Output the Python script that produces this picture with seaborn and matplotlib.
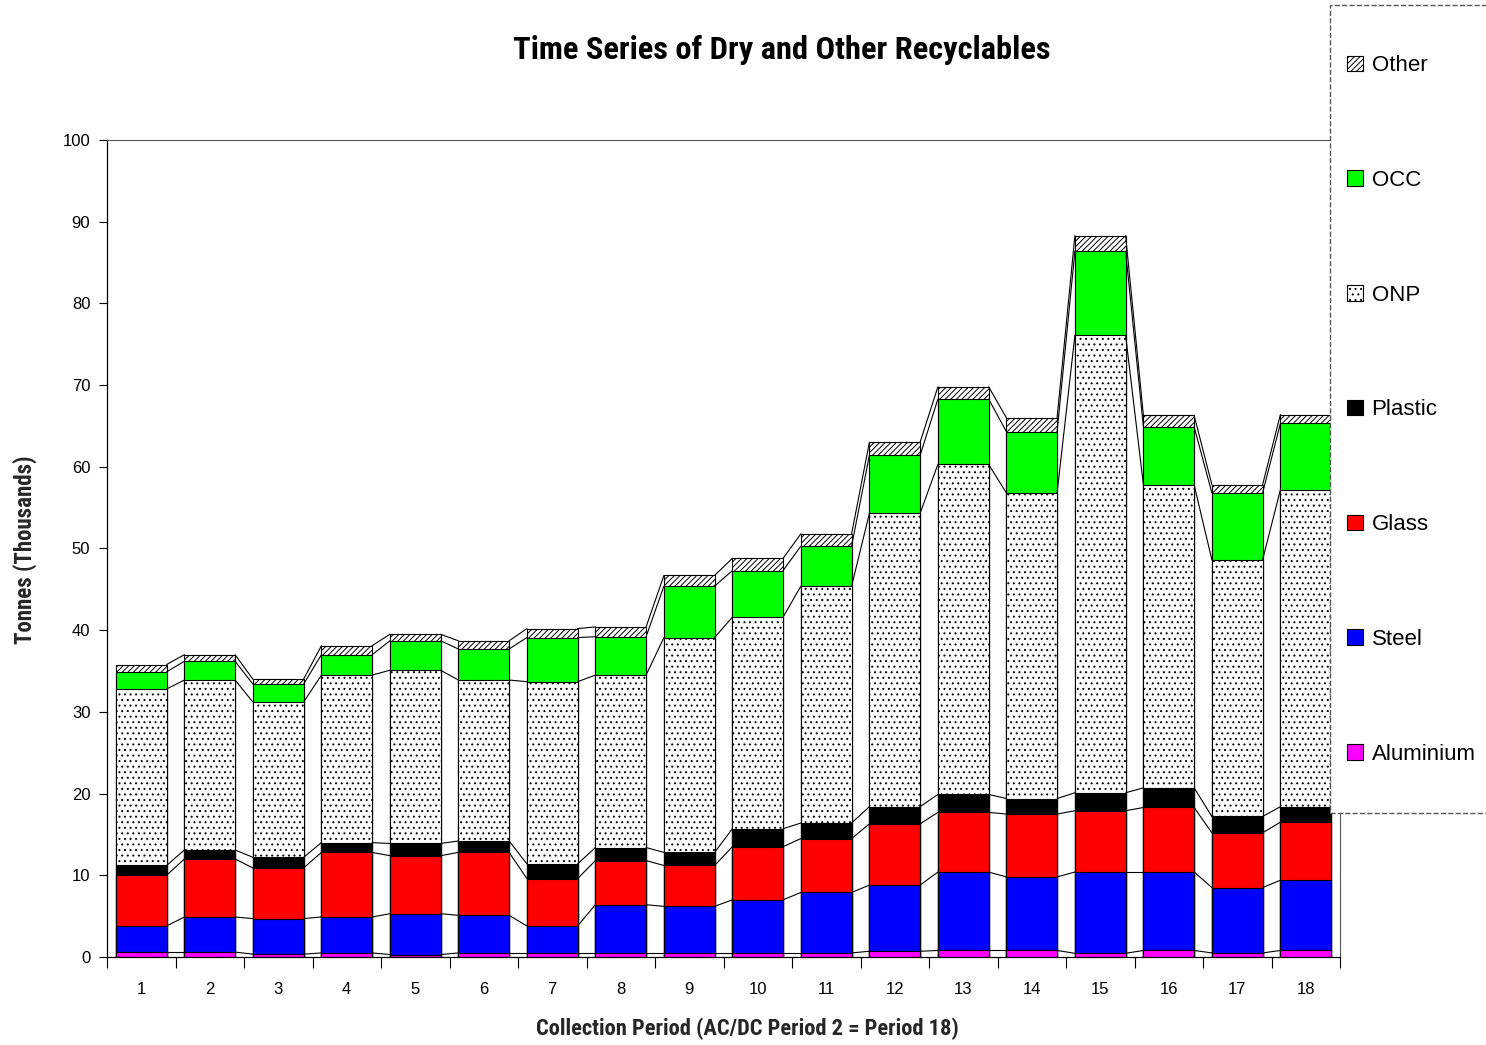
import numpy as np
import pandas as pd
import matplotlib
matplotlib.use("Agg")
import matplotlib.pyplot as plt
from matplotlib.patches import Patch, Rectangle
import seaborn as sns

# DATA (thousand tonnes per collection period)
periods = [str(i) for i in range(1, 19)]
aluminium = [0.6, 0.6, 0.35, 0.5, 0.3, 0.5, 0.5, 0.5, 0.5, 0.5, 0.5, 0.7, 0.8, 0.8, 0.45, 0.8, 0.5, 0.8]
steel = [3.2, 4.3, 4.35, 4.4, 5.0, 4.6, 3.3, 5.9, 5.7, 6.5, 7.4, 8.1, 9.6, 9.0, 9.95, 9.6, 8.0, 8.6]
glass = [6.2, 7.1, 6.2, 7.9, 7.1, 7.7, 5.8, 5.4, 5.0, 6.5, 6.6, 7.5, 7.3, 7.7, 7.5, 7.9, 6.7, 7.1]
plastic = [1.2, 1.1, 1.3, 1.2, 1.5, 1.4, 1.8, 1.6, 1.6, 2.2, 1.9, 2.1, 2.2, 1.9, 2.2, 2.4, 2.0, 1.9]
onp = [21.6, 20.8, 19.0, 20.5, 21.2, 19.7, 22.3, 21.1, 26.3, 25.9, 29.0, 35.9, 40.4, 37.4, 56.0, 37.1, 31.4, 38.8]
occ = [2.1, 2.3, 2.2, 2.5, 3.6, 3.8, 5.4, 4.7, 6.3, 5.7, 4.9, 7.1, 8.0, 7.5, 10.3, 7.1, 8.2, 8.1]
other = [0.9, 0.8, 0.6, 1.1, 0.8, 1.0, 1.1, 1.2, 1.3, 1.5, 1.5, 1.6, 1.5, 1.7, 1.9, 1.4, 1.0, 1.1]

series_names = ["Aluminium", "Steel", "Glass", "Plastic", "ONP", "OCC", "Other"]
series_vals = [aluminium, steel, glass, plastic, onp, occ, other]
colors = ["#FF00FF", "#0000FF", "#FF0000", "#000000", "#FFFFFF", "#00FF00", "#FFFFFF"]
hatches = [None, None, None, None, "...", None, "//////"]

# SETTINGS
sns.set_style("white")
plt.rcParams["hatch.linewidth"] = 0.7
plt.rcParams["hatch.color"] = "#333333"
plt.rcParams["text.color"] = "black"
plt.rcParams["xtick.color"] = "black"
plt.rcParams["ytick.color"] = "black"
regular = ["Liberation Sans", "DejaVu Sans"]
bold_narrow = dict(family=["Roboto Condensed", "DejaVu Sans"], fontweight="bold")

W, H = 1486, 1045
fig = plt.figure(figsize=(W / 100, H / 100), dpi=100)
ax = fig.add_axes([107 / W, 1 - 957 / H, (1340 - 107) / W, (957 - 140) / H])

# cumulative tops for stacking
df = pd.DataFrame(dict(zip(series_names, series_vals)), index=periods)
cum = df.cumsum(axis=1)
long = cum.reset_index(names="period")

BAR_W = 0.74
# draw back to front: highest cumulative first
for k in range(len(series_names) - 1, -1, -1):
    name = series_names[k]
    sns.barplot(data=long, x="period", y=name, ax=ax, color=colors[k],
                saturation=1, errorbar=None, width=BAR_W,
                edgecolor="black", linewidth=0.8, hatch=hatches[k])

# Excel-style series lines between bars
xs = np.arange(len(periods))
for name in series_names:
    tops = cum[name].values
    for i in range(len(periods) - 1):
        ax.plot([xs[i] + BAR_W / 2, xs[i + 1] - BAR_W / 2],
                [tops[i], tops[i + 1]], color="black", lw=0.8, zorder=5)

ax.set_xlim(-0.5, len(periods) - 0.5)
ax.set_ylim(0, 100)
ax.set_yticks(np.arange(0, 101, 10))
ax.set_xticks(xs)
ax.set_xticklabels(periods, family=regular, fontsize=12)
ax.set_yticklabels([str(v) for v in range(0, 101, 10)], family=regular, fontsize=12)
ax.set_xticks(np.arange(-0.5, len(periods), 1), minor=True)
ax.tick_params(axis="x", which="major", length=0, pad=18)
ax.tick_params(axis="x", which="minor", length=8, width=0.8, color="black", direction="out", bottom=True)
ax.tick_params(axis="y", length=6, width=0.8, color="black", direction="out", left=True, pad=6)
for side in ["left", "bottom"]:
    ax.spines[side].set_color("black")
    ax.spines[side].set_linewidth(0.9)
for side in ["top", "right"]:
    ax.spines[side].set_color("#555555")
    ax.spines[side].set_linewidth(0.8)

ax.set_xlabel("Collection Period (AC/DC Period 2 = Period 18)", fontsize=16.2, **bold_narrow)
ax.xaxis.set_label_coords((747 - 107) / 1233, -(1017 - 957) / 817)
ax.set_ylabel("Tonnes (Thousands)", fontsize=16.5, **bold_narrow)
ax.yaxis.set_label_coords(-(107 - 37) / 1233, (957 - 550) / 817)
fig.text(782 / W, 1 - 50 / H, "Time Series of Dry and Other Recyclables",
         fontsize=23.3, ha="center", va="center", **bold_narrow)

# legend box (dashed, covers right edge of plot)
fig.patches.append(Rectangle((1330 / W, 1 - 813 / H), 300 / W, (813 - 5) / H,
                             transform=fig.transFigure, facecolor="white",
                             edgecolor="#555555", linestyle="--", linewidth=1.0, zorder=3))

handles = []
for k in range(len(series_names) - 1, -1, -1):
    handles.append(Patch(facecolor=colors[k], edgecolor="black", hatch=hatches[k],
                         linewidth=0.8, label=series_names[k]))
leg = fig.legend(handles=handles, loc="upper left", bbox_to_anchor=(1336 / W, 1 - 44 / H),
                 frameon=False, borderpad=0, handlelength=0.7,
                 handleheight=0.7, handletextpad=0.4, labelspacing=4.22,
                 prop={"family": regular, "size": 16})
leg.set_zorder(6)

fig.savefig("out.png", dpi=100)
